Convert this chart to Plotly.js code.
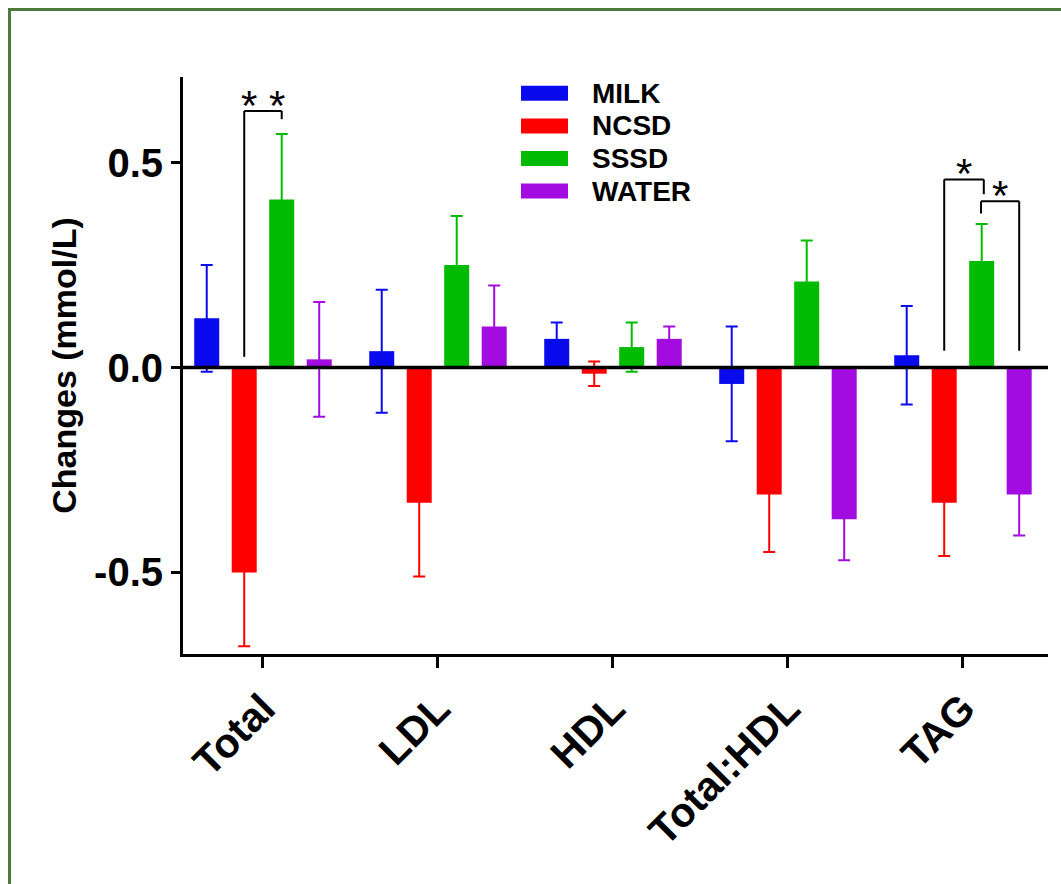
<!DOCTYPE html>
<html>
<head>
<meta charset="utf-8">
<script src="https://cdn.plot.ly/plotly-3.0.1.min.js"></script>
<style>
  html, body { margin: 0; padding: 0; background: #ffffff; }
  #wrap { position: relative; width: 1061px; height: 884px; overflow: hidden; }
  #chart { position: absolute; left: 0; top: 0; width: 1061px; height: 884px; }
  #frame { position: absolute; left: 8px; top: 8px; width: 1100px; height: 900px;
           border-left: 3px solid #4e7a3e; border-top: 3px solid #4e7a3e; pointer-events: none; }
</style>
</head>
<body>
<div id="wrap">
  <div id="chart"></div>
  <div id="frame"></div>
</div>
<script>
// ---- data ----
const categories = ['Total', 'LDL', 'HDL', 'Total:HDL', 'TAG'];
const seriesNames = ['MILK', 'NCSD', 'SSSD', 'WATER'];
const seriesColors = ['#0a0aee', '#ff0000', '#00bb00', '#a30ce0'];

const milk     = [0.12, 0.04, 0.07, -0.04, 0.03];
const milkErr  = [0.13, 0.15, 0.04, 0.14, 0.12];
const ncsd     = [-0.50, -0.33, -0.015, -0.31, -0.33];
const ncsdErr  = [0.18, 0.18, 0.03, 0.14, 0.13];
const sssd     = [0.41, 0.25, 0.05, 0.21, 0.26];
const sssdErr  = [0.16, 0.12, 0.06, 0.10, 0.09];
const water    = [0.02, 0.10, 0.07, -0.37, -0.31];
const waterErr = [0.14, 0.10, 0.03, 0.10, 0.10];

const yTickVals = [-0.5, 0, 0.5];
const yTickText = ['-0.5', '0.0', '0.5'];

// significance brackets: category index, series indices compared, heights (data units)
const bracketCats   = [0, 4, 4];
const bracketFrom   = [1, 1, 2];
const bracketTo     = [2, 2, 3];
const bracketTop    = [0.626, 0.459, 0.406];
const bracketLegA   = [0.026, 0.041, 0.376];
const bracketLegB   = [0.606, 0.423, 0.041];
const bracketLabels = ['* *', '*', '*'];

// ---- build ----
const FONT = 'Arial, "Liberation Sans", sans-serif';
const values = [milk, ncsd, sssd, water];
const errs = [milkErr, ncsdErr, sssdErr, waterErr];
const BARGAP = 0.143, BARGROUPGAP = 0.333;
const slot = (1 - BARGAP) / seriesNames.length;

const traces = seriesNames.map((name, k) => ({
  type: 'bar',
  name: name,
  x: categories,
  y: values[k],
  marker: { color: seriesColors[k], line: { width: 0 } },
  error_y: { type: 'data', array: errs[k], symmetric: true, visible: true,
             color: seriesColors[k], thickness: 2, width: 6 },
  showlegend: false,
  hoverinfo: 'skip'
}));

const shapes = [];
const annotations = [];

// zero line on top of the bars
shapes.push({ type: 'line', xref: 'paper', yref: 'y', x0: 0, x1: 1, y0: 0, y1: 0,
              line: { color: '#000000', width: 3.5 }, layer: 'above' });

// brackets
function barCenter(cat, k) { return cat + (k - (seriesNames.length - 1) / 2) * slot; }
for (let i = 0; i < bracketCats.length; i++) {
  let xa = barCenter(bracketCats[i], bracketFrom[i]);
  let xb = barCenter(bracketCats[i], bracketTo[i]);
  if (i === 1) xb += 0.012;
  if (i === 2) xa -= 0.004;
  const ln = { color: '#000000', width: 2 };
  shapes.push({ type: 'line', xref: 'x', yref: 'y', x0: xa, x1: xa, y0: bracketLegA[i], y1: bracketTop[i], line: ln });
  shapes.push({ type: 'line', xref: 'x', yref: 'y', x0: xa, x1: xb, y0: bracketTop[i], y1: bracketTop[i], line: ln });
  shapes.push({ type: 'line', xref: 'x', yref: 'y', x0: xb, x1: xb, y0: bracketTop[i], y1: bracketLegB[i], line: ln });
  annotations.push({ xref: 'x', yref: 'y', x: (xa + xb) / 2, y: bracketTop[i],
                     text: bracketLabels[i], showarrow: false, xanchor: 'center', yanchor: 'bottom',
                     yshift: -20, font: { family: FONT, size: 42, color: '#000000' } });
}

// legend (drawn manually to get the wide swatches)
const PL = 183, PT = 77, PW = 865, PH = 577;
const px2x = p => (p - PL) / PW;
const py2y = p => 1 - (p - PT) / PH;
const legRow0 = 93.3, legStep = 32.6;
seriesNames.forEach((name, k) => {
  const cy = legRow0 + k * legStep;
  shapes.push({ type: 'rect', xref: 'paper', yref: 'paper',
                x0: px2x(521), x1: px2x(568), y0: py2y(cy + 7.5), y1: py2y(cy - 7.5),
                fillcolor: seriesColors[k], line: { width: 0 } });
  annotations.push({ xref: 'paper', yref: 'paper', x: px2x(590), y: py2y(cy),
                     text: name, showarrow: false, xanchor: 'left', yanchor: 'middle',
                     font: { family: FONT, size: 28, color: '#000000', weight: 'bold' } });
});

const layout = {
  width: 1061, height: 884,
  margin: { l: PL, r: 1061 - PL - PW, t: PT, b: 884 - PT - PH, pad: 0 },
  paper_bgcolor: '#ffffff', plot_bgcolor: '#ffffff',
  barmode: 'group', bargap: BARGAP, bargroupgap: BARGROUPGAP,
  showlegend: false,
  font: { family: FONT, color: '#000000' },
  xaxis: {
    type: 'category', range: [-0.457, 4.486], fixedrange: true,
    showline: true, linecolor: '#000000', linewidth: 3,
    ticks: 'outside', ticklen: 11, tickwidth: 3, tickcolor: '#000000',
    tickangle: -45, tickfont: { family: FONT, size: 41, color: '#000000', weight: 'bold' },
    showgrid: false, zeroline: false
  },
  yaxis: {
    range: [-0.699, 0.709], fixedrange: true,
    tickvals: yTickVals, ticktext: yTickText,
    showline: true, linecolor: '#000000', linewidth: 3,
    ticks: 'outside', ticklen: 9, tickwidth: 3, tickcolor: '#000000',
    tickfont: { family: FONT, size: 40, color: '#000000', weight: 'bold' },
    ticklabelstandoff: 0,
    showgrid: false, zeroline: false,
    title: { text: 'Changes (mmol/L)', standoff: 8,
             font: { family: FONT, size: 34, color: '#000000', weight: 'bold' } }
  },
  shapes: shapes,
  annotations: annotations
};

Plotly.newPlot('chart', traces, layout, { staticPlot: true, displayModeBar: false });
</script>
</body>
</html>
